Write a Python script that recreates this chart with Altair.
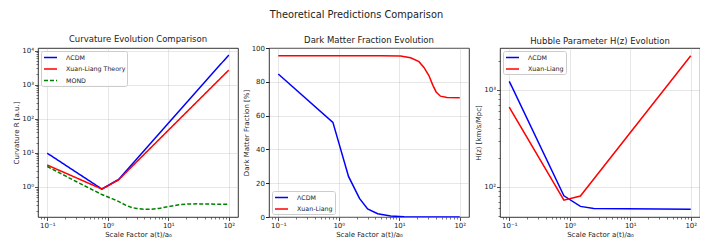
import altair as alt
import pandas as pd

FONT = "DejaVu Sans"
BLUE, RED, GREEN = "#0000ff", "#ff0000", "#008000"

# ---------------- data ----------------
models_R = ["ΛCDM", "Xuan-Liang Theory", "MOND"]
models_2 = ["ΛCDM", "Xuan-Liang"]

a_R_lcdm = [0.1, 0.8, 1.5, 10, 100]
R_lcdm = [9.8, 0.87, 1.65, 74, 7400]
a_R_xl = [0.1, 0.8, 1.5, 10, 100]
R_xl = [4.4, 0.87, 1.6, 46, 2680]
a_R_mond = [0.1, 0.3, 0.8, 1.2, 1.5, 2, 2.5, 3, 4, 5, 7, 10, 15, 20, 30, 50, 100]
R_mond = [4.0, 1.45, 0.6, 0.45, 0.38, 0.29, 0.25, 0.235, 0.222, 0.222, 0.235,
          0.265, 0.3, 0.315, 0.32, 0.315, 0.31]

a_dm_lcdm = [0.1, 0.8, 1.0, 1.45, 2.2, 3, 4.4, 7.2, 12, 100]
dm_lcdm = [84.6, 56, 44, 24, 11, 4.8, 1.9, 0.6, 0.1, 0]
a_dm_xl = [0.1, 1, 5, 10.5, 15.4, 21.2, 25.6, 30.9, 36, 40.7, 48, 61.5, 100]
dm_xl = [95.4, 95.4, 95.4, 95.2, 94.2, 91.9, 88.5, 83.7, 77.9, 74, 71.5, 70.7, 70.5]

a_H_lcdm = [0.1, 0.8, 1.5, 2.5, 100]
H_lcdm = [1222, 81, 63, 60, 59]
a_H_xl = [0.1, 0.8, 1.5, 100]
H_xl = [661, 73, 80.6, 2240]

sup_labels = ["10⁻¹", "10⁰", "10¹", "10²", "10³", "10⁴"]
dm_ticks = [0, 20, 40, 60, 80, 100]


def log_ticks(lo, hi):
    out = []
    for e in range(-2, 5):
        for k in range(1, 10):
            v = round(k * 10 ** e, 6)
            if lo <= v <= hi:
                out.append(v)
    return out


X_LO, X_HI = 10 ** -1.153, 10 ** 2.153
R_LO, R_HI = 10 ** -0.88, 10 ** 4.077
H_LO, H_HI = 10 ** 1.69, 10 ** 3.43

MAJOR = "abs(log(datum.value)/LN10 - round(log(datum.value)/LN10)) < 0.001"
LABEL_EXPR = (MAJOR + " ? " + "[" + ",".join("'%s'" % s for s in sup_labels) + "]"
              + "[round(log(datum.value)/LN10)+1] : ''")


def log_axis(values, title):
    return alt.Axis(
        values=values, title=title, labelExpr=LABEL_EXPR,
        tickSize={"condition": {"test": MAJOR, "value": 3.5}, "value": 2},
        tickWidth={"condition": {"test": MAJOR, "value": 0.8}, "value": 0.6},
        gridOpacity={"condition": {"test": MAJOR, "value": 0.3}, "value": 0},
        labelFlush=False, labelOverlap=False,
    )


def frame(xs, ys, names):
    rows = []
    for x, y, n in zip(xs, ys, names):
        for i, (a, v) in enumerate(zip(x, y)):
            rows.append({"a": a, "v": v, "model": n, "i": i})
    return pd.DataFrame(rows)


W, H = 200, 169
XT = "Scale Factor a(t)/a₀"


def ptitle(t, dy=0):
    return alt.TitleParams(t, fontSize=8.5, font=FONT, fontWeight="normal", offset=3,
                           color="#222", dy=dy)


# ---- panel 1 ----
df1 = frame([a_R_lcdm, a_R_xl, a_R_mond], [R_lcdm, R_xl, R_mond], models_R)
leg1 = alt.Legend(orient="top-left", title=None)
p1 = alt.Chart(df1, title=ptitle("Curvature Evolution Comparison")).mark_line(
    strokeWidth=1.5, clip=True
).encode(
    x=alt.X("a:Q", scale=alt.Scale(type="log", domain=[X_LO, X_HI], nice=False),
            axis=log_axis(log_ticks(X_LO, X_HI), XT)),
    y=alt.Y("v:Q", scale=alt.Scale(type="log", domain=[R_LO, R_HI], nice=False),
            axis=log_axis(log_ticks(R_LO, R_HI), "Curvature R [a.u.]")),
    color=alt.Color("model:N", scale=alt.Scale(domain=models_R, range=[BLUE, RED, GREEN]), legend=leg1),
    strokeDash=alt.StrokeDash("model:N", scale=alt.Scale(domain=models_R, range=[[1, 0], [1, 0], [4, 2]]),
                              legend=leg1),
    order="i:Q",
).properties(width=W, height=H)

# ---- panel 2 ----
df2 = frame([a_dm_lcdm, a_dm_xl], [dm_lcdm, dm_xl], models_2)
p2 = alt.Chart(df2, title=ptitle("Dark Matter Fraction Evolution", dy=3.5)).mark_line(
    strokeWidth=1.5, clip=True
).encode(
    x=alt.X("a:Q", scale=alt.Scale(type="log", domain=[X_LO, X_HI], nice=False),
            axis=log_axis(log_ticks(X_LO, X_HI), XT)),
    y=alt.Y("v:Q", scale=alt.Scale(domain=[0, 100], nice=False),
            axis=alt.Axis(values=dm_ticks, title="Dark Matter Fraction [%]", tickSize=3.5,
                          gridOpacity=0.3, labelFlush=False)),
    color=alt.Color("model:N", scale=alt.Scale(domain=models_2, range=[BLUE, RED]),
                    legend=alt.Legend(orient="bottom-left", title=None)),
    order="i:Q",
).properties(width=W, height=H)

# ---- panel 3 ----
df3 = frame([a_H_lcdm, a_H_xl], [H_lcdm, H_xl], models_2)
p3 = alt.Chart(df3, title=ptitle("Hubble Parameter H(z) Evolution")).mark_line(
    strokeWidth=1.5, clip=True
).encode(
    x=alt.X("a:Q", scale=alt.Scale(type="log", domain=[X_LO, X_HI], nice=False),
            axis=log_axis(log_ticks(X_LO, X_HI), XT)),
    y=alt.Y("v:Q", scale=alt.Scale(type="log", domain=[H_LO, H_HI], nice=False),
            axis=log_axis(log_ticks(H_LO, H_HI), "H(z) [km/s/Mpc]")),
    color=alt.Color("model:N", scale=alt.Scale(domain=models_2, range=[BLUE, RED]),
                    legend=alt.Legend(orient="top-left", title=None)),
    order="i:Q",
).properties(width=W, height=H)

chart = alt.hconcat(
    p1, p2, p3, spacing=31, bounds="flush",
    title=alt.TitleParams("Theoretical Predictions Comparison", anchor="middle", fontSize=9.8,
                          font=FONT, fontWeight="normal", offset=15, color="#222"),
).resolve_scale(color="independent", strokeDash="independent").properties(
    padding={"left": 4, "top": 1, "right": -1.5, "bottom": 0}
).configure_view(
    stroke="black", strokeWidth=0.8
).configure_axis(
    domain=False, gridColor="#b0b0b0", tickColor="#222", labelColor="#222", titleColor="#222",
    labelFont=FONT, titleFont=FONT, labelFontSize=7, titleFontSize=7, titleFontWeight="normal",
    labelPadding=1, titlePadding=2,
).configure_legend(
    fillColor="rgba(255,255,255,0.8)", strokeColor="#cccccc", cornerRadius=2, padding=1.5,
    offset=3, labelFont=FONT, labelFontSize=6.3, labelColor="#222",
    symbolType="M-1.625,0H1.625", symbolSize=64, symbolStrokeWidth=1.5,
    symbolOffset=3, rowPadding=2.5, labelOffset=10.5,
)

chart.save("out.html", embed_options={"renderer": "svg", "actions": False})
